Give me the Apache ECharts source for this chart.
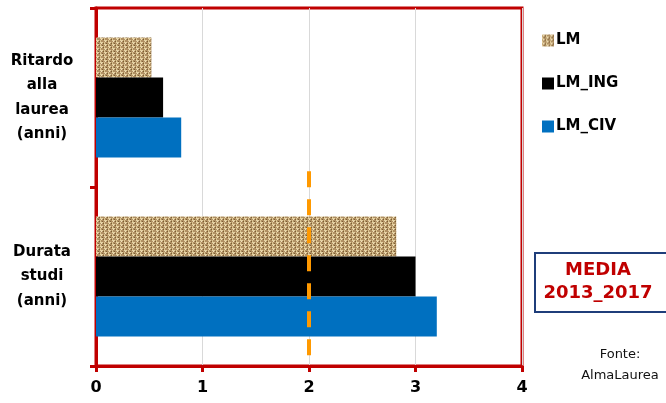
<!DOCTYPE html>
<html><head><meta charset="utf-8">
<script src="https://cdn.jsdelivr.net/npm/echarts@6/dist/echarts.min.js"></script>
<style>html,body{margin:0;padding:0;background:#fff}#c{width:666px;height:403px}</style>
</head><body><div id="c"></div>
<script>
// ---- data (categories listed bottom to top) ----
var categories = ['Durata\nstudi\n(anni)', 'Ritardo\nalla\nlaurea\n(anni)'];
var seriesNames = ['LM', 'LM_ING', 'LM_CIV'];
var valuesLM = [2.82, 0.52];
var valuesLM_ING = [3.0, 0.63];
var valuesLM_CIV = [3.2, 0.80];
var xTicks = [0, 1, 2, 3, 4];
var refLine = [[2, 0.03], [2, 0.55]]; // x value 2, spanning part of the plot height

// ---- burlap texture ----
function burlap() {
  var c = document.createElement('canvas');
  c.width = 8; c.height = 8;
  var g = c.getContext('2d');
  g.fillStyle = '#B09063'; g.fillRect(0, 0, 8, 8);
  // light weft threads
  g.fillStyle = '#E6D3A3';
  g.fillRect(0, 0, 3, 1); g.fillRect(4, 2, 3, 1); g.fillRect(0, 4, 3, 1); g.fillRect(4, 6, 3, 1);
  // light warp threads
  g.fillStyle = '#DCC592';
  g.fillRect(4, 0, 1, 2); g.fillRect(0, 2, 1, 2); g.fillRect(4, 4, 1, 2); g.fillRect(0, 6, 1, 2);
  g.fillStyle = '#F0E2BE';
  g.fillRect(1, 1, 1, 1); g.fillRect(5, 3, 1, 1); g.fillRect(1, 5, 1, 1); g.fillRect(5, 7, 1, 1);
  // dark gaps
  g.fillStyle = '#7A5E33';
  g.fillRect(3, 1, 1, 1); g.fillRect(7, 3, 1, 1); g.fillRect(3, 5, 1, 1); g.fillRect(7, 7, 1, 1);
  g.fillRect(2, 3, 1, 1); g.fillRect(6, 5, 1, 1);
  return c;
}
var tex = { image: burlap(), repeat: 'repeat' };

var FONT = "'Comic Sans MS','DejaVu Sans',sans-serif";
var chart = echarts.init(document.getElementById('c'), null, { renderer: 'canvas' });
chart.setOption({
  animation: false,
  textStyle: { fontFamily: FONT },
  grid: { left: 96, top: 8, right: 144, bottom: 37, show: true, borderColor: '#C00000', borderWidth: 3 },
  legend: {
    orient: 'vertical', left: 537, top: 28, itemGap: 28, itemWidth: 12, itemHeight: 12,
    icon: 'rect',
    data: seriesNames,
    textStyle: { fontFamily: FONT, fontWeight: 'bold', fontSize: 15, color: '#000', padding: [0, 0, 0, -3] }
  },
  xAxis: {
    type: 'value', min: 0, max: 4, interval: 1,
    axisLine: { show: true, lineStyle: { color: '#C00000', width: 3 } },
    axisTick: { show: true, length: 6, lineStyle: { color: '#C00000', width: 3 } },
    splitLine: { show: true, lineStyle: { color: '#D9D9D9', width: 1 } },
    axisLabel: { margin: 14, fontFamily: FONT, fontWeight: 'bold', fontSize: 16, color: '#000',
      formatter: function (v) { return xTicks.indexOf(v) >= 0 ? String(v) : ''; } }
  },
  yAxis: [{
    type: 'category', data: categories,
    axisLine: { show: true, lineStyle: { color: '#C00000', width: 3 } },
    axisTick: { show: true, length: 6, lineStyle: { color: '#C00000', width: 3 } },
    axisLabel: { margin: 54, align: 'center', fontFamily: FONT, fontWeight: 'bold', fontSize: 15, lineHeight: 24.5, color: '#000' }
  }, {
    type: 'value', min: 0, max: 1, show: false, splitLine: { show: false }
  }],
  series: [
    { name: 'LM', type: 'bar', yAxisIndex: 0, data: valuesLM, barGap: '0%', barCategoryGap: '33%', itemStyle: { color: tex } },
    { name: 'LM_ING', type: 'bar', yAxisIndex: 0, data: valuesLM_ING, itemStyle: { color: '#000000' } },
    { name: 'LM_CIV', type: 'bar', yAxisIndex: 0, data: valuesLM_CIV, itemStyle: { color: '#0070C0' } },
    { name: 'media', type: 'line', yAxisIndex: 1, data: refLine, symbol: 'none', silent: true, z: 5,
      lineStyle: { color: '#FF9900', width: 4, type: [16, 12] } }
  ],
  graphic: [
    { type: 'rect', shape: { x: 535, y: 253, width: 140, height: 59 },
      style: { fill: '#fff', stroke: '#1F3D7A', lineWidth: 2 } },
    { type: 'text', x: 598, y: 259,
      style: { text: 'MEDIA\n2013_2017', textAlign: 'center', fill: '#C00000',
        font: "bold 18px " + FONT, lineHeight: 23 } },
    { type: 'text', x: 620, y: 344,
      style: { text: 'Fonte:\nAlmaLaurea', textAlign: 'center', fill: '#111',
        font: "13px " + FONT, lineHeight: 21 } }
  ]
});
</script></body></html>
